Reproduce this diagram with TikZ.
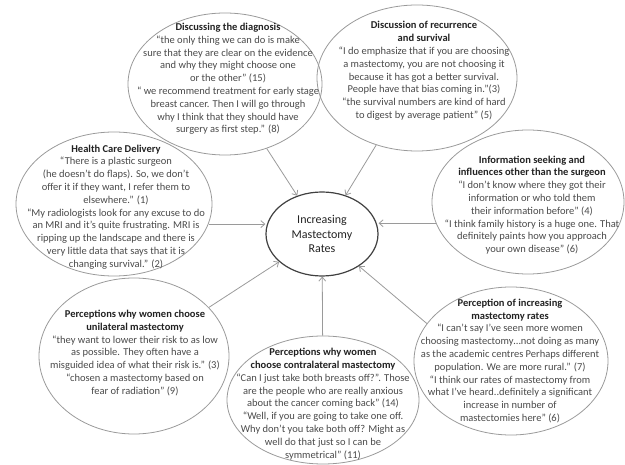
\documentclass[tikz,border=0pt]{standalone}
\usepackage{fontspec}
\setmainfont{Carlito}
\usetikzlibrary{shapes.geometric,arrows.meta}
\definecolor{ringgray}{HTML}{9A9A9A}
\definecolor{quotegray}{HTML}{4A4A4A}
\definecolor{titleblack}{HTML}{222222}
\tikzset{
  ring/.style={ellipse, draw=ringgray, line width=0.8pt, inner sep=0pt},
  hub/.style={ellipse, draw=black!75, line width=1.2pt, inner sep=0pt,
    minimum width=112pt, minimum height=84pt, align=center,
    font=\fontsize{12}{14.5}\selectfont, text=titleblack},
  txt/.style={align=center, inner sep=0pt, text=quotegray,
    font=\fontsize{10.5}{12.8}\selectfont},
  ttl/.style={text=titleblack, font=\bfseries},
  arr/.style={draw=ringgray, line width=0.8pt, -{Straight Barb[length=4pt,width=7pt]}}
}
\newcommand{\ttlline}[1]{{\color{titleblack}\bfseries #1}}
\begin{document}
\begin{tikzpicture}[x=1pt,y=-1pt]
\useasboundingbox (0,0) rectangle (625,465);
% ellipses
\node[ring, minimum width=194pt, minimum height=142pt] (diag) at (225,84) {};
\node[ring, minimum width=200pt, minimum height=146pt] (recur) at (417,78) {};
\node[ring, minimum width=196pt, minimum height=144pt] (health) at (114,204) {};
\node[ring, minimum width=192pt, minimum height=144pt] (info) at (528,202) {};
\node[ring, minimum width=190pt, minimum height=156pt] (uni) at (134,356) {};
\node[ring, minimum width=194pt, minimum height=148pt] (perc) at (511,361) {};
\node[ring, minimum width=192pt, minimum height=128pt] (contra) at (323,400) {};
\node[hub] (cen) at (322,234) {Increasing\\Mastectomy\\Rates};
% texts
\node[txt] (diagT) at (228,79) {\ttlline{Discussing the diagnosis}\\
“the only thing we can do is make\\
sure that they are clear on the evidence\\
and why they might choose one\\
or the other” (15)\\
“ we recommend treatment for early stage\\
breast cancer. Then I will go through\\
why I think that they should have\\
surgery as first step.” (8)};
\node[txt] (recurT) at (424,71) {\ttlline{Discussion of recurrence}\\
\ttlline{and survival}\\
“I do emphasize that if you are choosing\\
a mastectomy, you are not choosing it\\
because it has got a better survival.\\
People have that bias coming in.”(3)\\
“the survival numbers are kind of hard\\
to digest by average patient” (5)};
\node[txt] (healthT) at (116,207) {\ttlline{Health Care Delivery}\\
“There is a plastic surgeon\\
(he doesn’t do flaps). So, we don’t\\
offer it if they want, I refer them to\\
elsewhere.” (1)\\
“My radiologists look for any excuse to do\\
an MRI and it’s quite frustrating. MRI is\\
ripping up the landscape and there is\\
very little data that says that it is\\
changing survival.” (2)};
\node[txt] (infoT) at (532,205) {\ttlline{Information seeking and}\\
\ttlline{influences other than the surgeon}\\
“I don’t know where they got their\\
information or who told them\\
their information before” (4)\\
“I think family history is a huge one. That\\
definitely paints how you approach\\
your own disease” (6)};
\node[txt] (uniT) at (135,353) {\ttlline{Perceptions why women choose}\\
\ttlline{unilateral mastectomy}\\
“they want to lower their risk to as low\\
as possible. They often have a\\
misguided idea of what their risk is.” (3)\\
“chosen a mastectomy based on\\
fear of radiation” (9)};
\node[txt] (percT) at (510,361) {\ttlline{Perception of increasing}\\
\ttlline{mastectomy rates}\\
“I can’t say I’ve seen more women\\
choosing mastectomy…not doing as many\\
as the academic centres Perhaps different\\
population. We are more rural.” (7)\\
“I think our rates of mastectomy from\\
what I’ve heard..definitely a significant\\
increase in number of\\
mastectomies here” (6)};
\node[txt] (contraT) at (323,404) {\ttlline{Perceptions why women}\\
\ttlline{choose contralateral mastectomy}\\
“Can I just take both breasts off?”. Those\\
are the people who are really anxious\\
about the cancer coming back” (14)\\
“Well, if you are going to take one off.\\
Why don’t you take both off? Might as\\
well do that just so I can be\\
symmetrical” (11)};
% connectors
\draw[arr] (diag) -- (cen);
\draw[arr] (recur) -- (cen);
\draw[arr] (health.-12) -- (health.-12 -| cen.west);
\draw[arr] (info.193) -- (info.193 -| cen.east);
\draw[arr] (uni) -- (cen);
\draw[arr] (contra) -- (cen);
\draw[arr] (perc.156) -- (cen.-41);
\end{tikzpicture}
\end{document}
